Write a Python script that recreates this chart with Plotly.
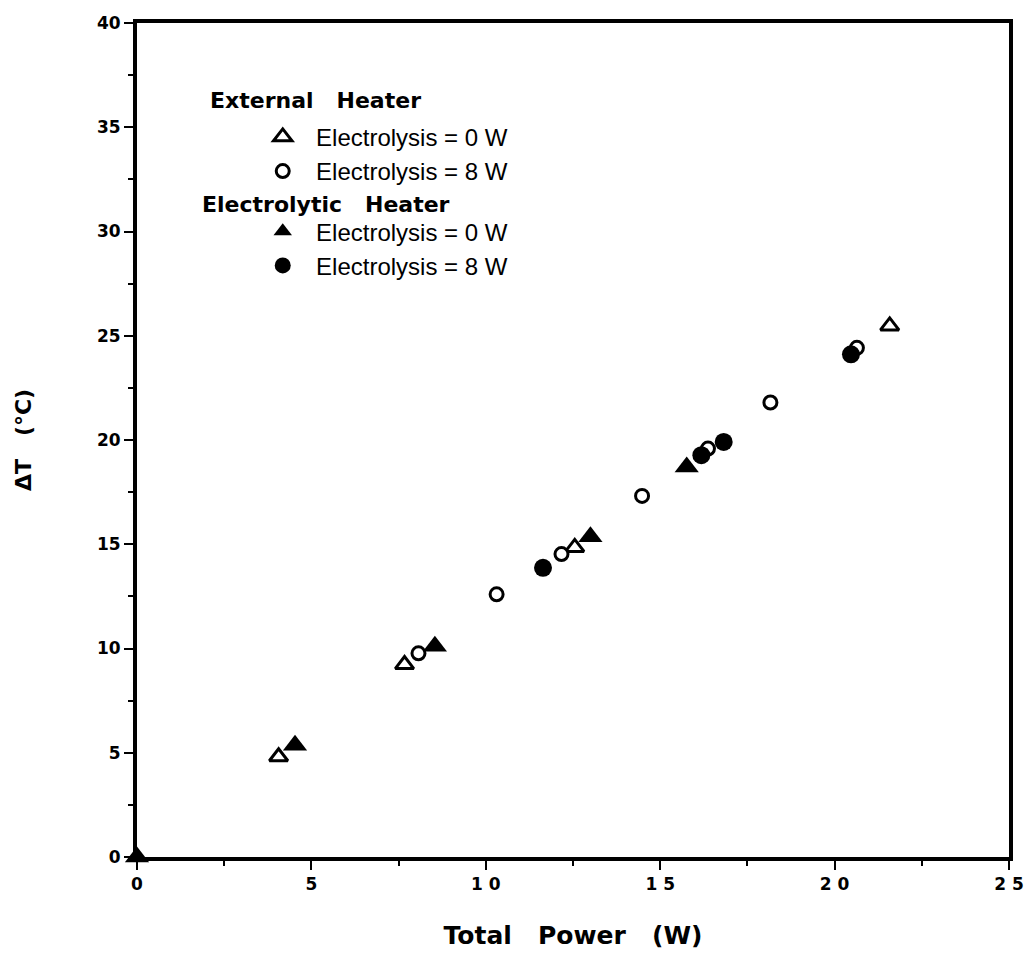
import plotly.graph_objects as go

# External heater, electrolysis = 0 W (open triangles)
ext0_x = [4.06, 7.67, 12.55, 21.58]
ext0_y = [4.81, 9.23, 14.85, 25.47]
# External heater, electrolysis = 8 W (open circles)
ext8_x = [8.07, 10.31, 12.17, 14.48, 16.37, 18.16, 20.64]
ext8_y = [9.77, 12.6, 14.53, 17.32, 19.59, 21.8, 24.42]
# Electrolytic heater, electrolysis = 0 W (filled triangles)
el0_x = [0.0, 4.53, 8.54, 13.0, 15.76]
el0_y = [0.0, 5.36, 10.11, 15.36, 18.71]
# Electrolytic heater, electrolysis = 8 W (filled circles)
el8_x = [11.64, 16.18, 16.82, 20.47]
el8_y = [13.87, 19.27, 19.91, 24.11]

x_tickvals = [0, 5, 10, 15, 20, 25]
x_ticktext = ["0", "5", "1 0", "1 5", "2 0", "2 5"]
y_tickvals = [0, 5, 10, 15, 20, 25, 30, 35, 40]
y_ticktext = ["0", "5", "10", "15", "20", "25", "30", "35", "40"]

item_label = "\u00a0\u00a0Electrolysis = 0 W"
item_label8 = "\u00a0\u00a0Electrolysis = 8 W"

BOLD = dict(family="DejaVu Sans", weight="bold", color="black")

fig = go.Figure()
fig.add_trace(go.Scatter(
    x=ext0_x, y=ext0_y, mode="markers", name=item_label, legendgroup="ext",
    marker=dict(symbol="triangle-up", size=16, color="white",
                line=dict(color="black", width=3))))
fig.add_trace(go.Scatter(
    x=ext8_x, y=ext8_y, mode="markers", name=item_label8, legendgroup="ext",
    marker=dict(symbol="circle", size=13, color="white",
                line=dict(color="black", width=3))))
fig.add_trace(go.Scatter(
    x=el0_x, y=el0_y, mode="markers", name=item_label, legendgroup="el",
    cliponaxis=False,
    marker=dict(symbol="triangle-up", size=21, color="black",
                line=dict(color="black", width=0))))
fig.add_trace(go.Scatter(
    x=el8_x, y=el8_y, mode="markers", name=item_label8, legendgroup="el",
    marker=dict(symbol="circle", size=18, color="black",
                line=dict(color="black", width=0))))

fig.update_layout(
    width=1036, height=962,
    margin=dict(l=136.5, r=16, t=23, b=105),
    paper_bgcolor="white", plot_bgcolor="white",
    showlegend=True,
    legend=dict(
        x=0.1442, y=0.890, xanchor="left", yanchor="top",
        font=dict(family="Liberation Sans", size=24, color="black"),
        bgcolor="rgba(0,0,0,0)", borderwidth=0,
        traceorder="grouped", tracegroupgap=26, itemsizing="trace",
    ),
    annotations=[
        dict(text="External   Heater", xref="paper", yref="paper",
             x=0.081, y=0.9065, xanchor="left", yanchor="middle",
             showarrow=False, font=dict(size=22, **BOLD)),
        dict(text="Electrolytic   Heater", xref="paper", yref="paper",
             x=0.072, y=0.7818, xanchor="left", yanchor="middle",
             showarrow=False, font=dict(size=22, **BOLD)),
    ],
)

fig.update_xaxes(
    range=[0, 25], tickvals=x_tickvals, ticktext=x_ticktext,
    showline=True, mirror=True, linecolor="black", linewidth=4,
    ticks="outside", ticklen=9, tickwidth=2, tickcolor="black",
    minor=dict(dtick=2.5, ticks="outside", ticklen=5, tickwidth=2, tickcolor="black"),
    showgrid=False, zeroline=False,
    tickfont=dict(size=17, **BOLD),
    title=dict(text="Total   Power   (W)", font=dict(size=25, **BOLD), standoff=34),
)
fig.update_yaxes(
    range=[0, 40], tickvals=y_tickvals, ticktext=y_ticktext,
    showline=True, mirror=True, linecolor="black", linewidth=4,
    ticks="outside", ticklen=9, tickwidth=2, tickcolor="black",
    minor=dict(dtick=2.5, ticks="outside", ticklen=5, tickwidth=2, tickcolor="black"),
    showgrid=False, zeroline=False,
    tickfont=dict(size=17, **BOLD),
    title=dict(text="ΔT   (°C)", font=dict(size=22, **BOLD), standoff=60),
)

fig.write_html("out.html", config={"displayModeBar": False},
               post_script="document.body.style.margin='0';")
